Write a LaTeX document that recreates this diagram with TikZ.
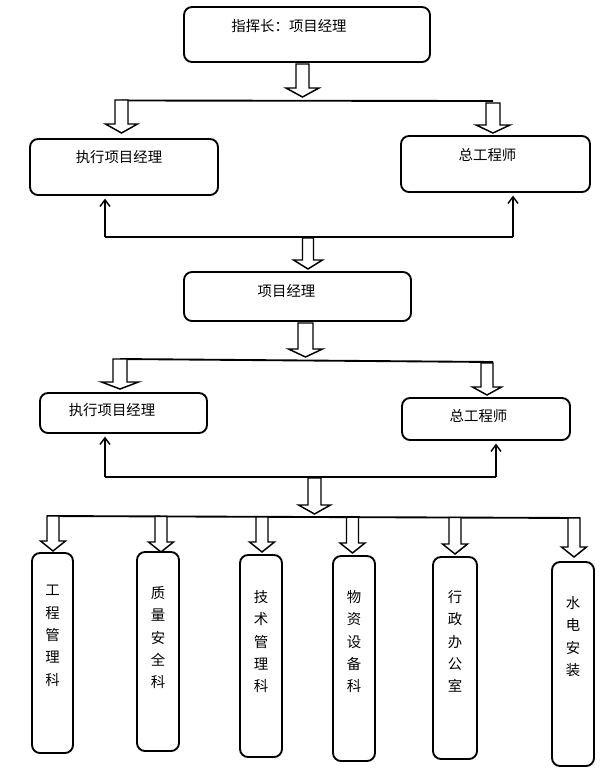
\documentclass[tikz,border=0pt]{standalone}
\usepackage{fontspec}
\newfontfamily\cjk{Noto Sans CJK SC}
\usetikzlibrary{arrows.meta,fit}
% hollow block arrow: centre x, top y, tip y, shaft half width, head half width, head length
\newcommand\blockarr[6]{%
  \draw[hollow] ({#1-#4},#2) -- ({#1+#4},#2) -- ({#1+#4},{#3-#6}) -- ({#1+#5},{#3-#6})
    -- (#1,#3) -- ({#1-#5},{#3-#6}) -- ({#1-#4},{#3-#6}) -- cycle;}
\begin{document}
\begin{tikzpicture}[x=0.75pt,y=-0.75pt,
  font=\cjk\fontsize{10.8pt}{16.8pt}\selectfont,
  box/.style={draw, rounded corners=6pt, line width=1.4pt, inner sep=0pt},
  lbl/.style={inner sep=0pt, anchor=center},
  vlbl/.style={inner sep=0pt, anchor=north, align=center},
  bar/.style={line width=1.4pt},
  uparr/.style={line width=1.1pt, shorten >=2pt,
    -{Straight Barb[length=5pt,width=7.5pt,line width=1.1pt]}},
  hollow/.style={draw, line width=1.1pt, fill=white}]
\useasboundingbox (0,0) rectangle (608,769);

% boxes
\node[box, fit={(184,7) (430,62)}] (top) {};
\node[box, fit={(30,139) (218,195)}] (e1) {};
\node[box, fit={(401,136) (590,192)}] (g1) {};
\node[box, fit={(184,272) (411,321)}] (pm) {};
\node[box, fit={(40,393) (207,433)}] (e2) {};
\node[box, fit={(402,398) (570,440)}] (g2) {};
\node[box, fit={(32,553) (73,753)}] (b1) {};
\node[box, fit={(137,552) (179,751)}] (b2) {};
\node[box, fit={(240,555) (282,757)}] (b3) {};
\node[box, fit={(333,556) (375,761)}] (b4) {};
\node[box, fit={(433,557) (477,759)}] (b5) {};
\node[box, fit={(552,562) (594,766)}] (b6) {};

% labels
\node[lbl] (ttop) at (289,26) {指挥长：项目经理};
\node[lbl] (te1) at (119,157) {执行项目经理};
\node[lbl] (tg1) at (487.5,155) {总工程师};
\node[lbl] (tpm) at (286.5,291) {项目经理};
\node[lbl] (te2) at (112,410) {执行项目经理};
\node[lbl] (tg2) at (478.5,416) {总工程师};
\node[vlbl] (t1) at (52.5,585) {工\\程\\管\\理\\科};
\node[vlbl] (t2) at (158,586) {质\\量\\安\\全\\科};
\node[vlbl] (t3) at (261,590) {技\\术\\管\\理\\科};
\node[vlbl] (t4) at (354,590) {物\\资\\设\\备\\科};
\node[vlbl] (t5) at (455,590) {行\\政\\办\\公\\室};
\node[vlbl] (t6) at (573,596) {水\\电\\安\\装};

% horizontal bars
\coordinate (h1a) at (121.5,100.5); \coordinate (h1b) at (493,101);
\coordinate (h2a) at (105,237);     \coordinate (h2b) at (513,237);
\coordinate (h3a) at (120,359);     \coordinate (h3b) at (493,362);
\coordinate (h4a) at (105,477);     \coordinate (h4b) at (496,477);
\coordinate (h5a) at (47,516);      \coordinate (h5b) at (580,518);
\draw[bar] (h1a) -- (h1b);
\draw[bar] (h2a) -- (h2b);
\draw[bar] (h3a) -- (h3b);
\draw[bar] (h4a) -- (h4b);
\draw[bar] (h5a) -- (h5b);

% thin up arrows
\draw[uparr] (h2a) -- (e1.south -| h2a);
\draw[uparr] (h2b) -- (g1.south -| h2b);
\draw[uparr] (h4a) -- (e2.south -| h4a);
\draw[uparr] (h4b) -- (g2.south -| h4b);

% hollow block arrows
\blockarr{302.5}{64}{97}{6.5}{16.5}{9}
\blockarr{121.5}{100}{133}{6.5}{16}{9}
\blockarr{493}{103}{133}{7}{17}{8}
\blockarr{308}{238}{269}{5.5}{14.5}{9}
\blockarr{305.5}{323}{357}{7.5}{17}{8}
\blockarr{120}{359}{389}{7}{18.5}{7}
\blockarr{487}{363}{395}{6}{14.5}{8}
\blockarr{314.5}{478}{514}{6.5}{16}{9}
\blockarr{53}{516}{551}{6}{12.5}{10}
\blockarr{161}{516.4}{552}{6}{12.5}{10}
\blockarr{262}{516.8}{552}{6}{12.5}{10}
\blockarr{352.5}{517.1}{553}{6}{12.5}{10}
\blockarr{455}{517.5}{554}{6}{12.5}{10}
\blockarr{574}{518}{557}{6}{12.5}{10}
\end{tikzpicture}
\end{document}
